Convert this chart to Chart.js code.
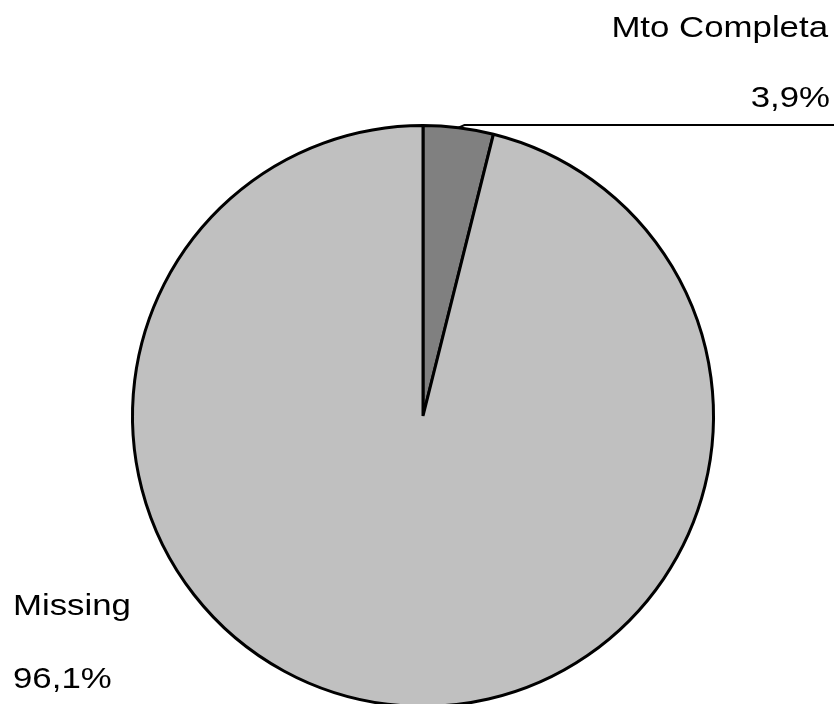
<!DOCTYPE html>
<html>
<head>
<meta charset="utf-8">
<script src="https://cdn.jsdelivr.net/npm/chart.js@4.4.0/dist/chart.umd.min.js"></script>
<style>
    html, body { margin: 0; padding: 0; background: #fff; overflow: hidden; }
    #wrap { width: 834px; height: 720px; }
</style>
</head>
<body>
<div id="wrap"><canvas id="pie-chart"></canvas></div>
<script>
const categories = ["Mto Completa", "Missing"];
const shares = [3.9, 96.1]; // percent
const sliceColors = ["#808080", "#c0c0c0"];

function pct(v) {
    return v.toFixed(1).replace(".", ",") + "%";
}

// text is drawn a bit wider than normal, like the old office export
function stretchedText(ctx, text, x, y, align) {
    ctx.save();
    ctx.translate(x, y);
    ctx.scale(1.16, 1);
    ctx.textAlign = align;
    ctx.fillText(text, 0, 0);
    ctx.restore();
}

const sliceLabels = {
    id: "sliceLabels",
    afterDraw(chart) {
        const ctx = chart.ctx;
        const arc = chart.getDatasetMeta(0).data[0];
        const mid = (arc.startAngle + arc.endAngle) / 2;
        const lx = arc.x + Math.cos(mid) * arc.outerRadius;
        const ly = arc.y + Math.sin(mid) * arc.outerRadius;

        // leader line for the small slice
        ctx.save();
        ctx.strokeStyle = "#000";
        ctx.lineWidth = 2;
        ctx.beginPath();
        ctx.moveTo(lx, ly);
        ctx.lineTo(lx + 6, 125);
        ctx.lineTo(chart.width, 125);
        ctx.stroke();

        ctx.fillStyle = "#000";
        ctx.font = "30px 'Liberation Sans', Arial, sans-serif";
        ctx.textBaseline = "alphabetic";
        stretchedText(ctx, categories[0], 828, 37, "right");
        stretchedText(ctx, pct(shares[0]), 830, 107, "right");
        stretchedText(ctx, categories[1], 13, 615, "left");
        stretchedText(ctx, pct(shares[1]), 13, 688, "left");
        ctx.restore();
    }
};

function renderPie() {
    const ctx = document.getElementById("pie-chart").getContext("2d");
    new Chart(ctx, {
        type: "pie",
        data: {
            labels: categories,
            datasets: [
                {
                    data: shares,
                    backgroundColor: sliceColors,
                    borderColor: "#000",
                    borderWidth: 3,
                },
            ],
        },
        options: {
            responsive: true,
            maintainAspectRatio: false,
            animation: false,
            layout: { padding: { left: 131, right: 119, top: 123, bottom: 11 } },
            plugins: {
                legend: { display: false },
                tooltip: { enabled: false },
            },
        },
        plugins: [sliceLabels],
    });
}

renderPie();
</script>
</body>
</html>
